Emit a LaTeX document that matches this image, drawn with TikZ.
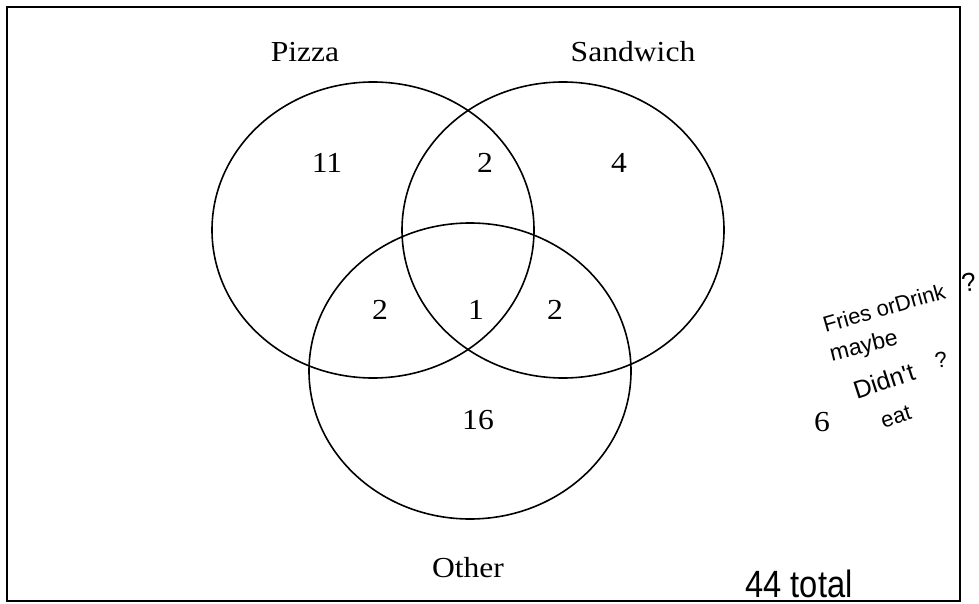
\documentclass[tikz,border=0pt]{standalone}
\usepackage{fontspec}
\setmainfont{Liberation Serif}
\newfontfamily\handfont{Liberation Sans}
\begin{document}
\begin{tikzpicture}[x=1pt,y=-1pt,
  setcircle/.style={draw=black,line width=1.6pt},
  lbl/.style={font=\fontsize{29}{32}\selectfont,xscale=1.09,inner sep=0pt},
  num/.style={font=\fontsize{29}{32}\selectfont,xscale=1.09,inner sep=0pt},
  hand/.style={font=\handfont\fontsize{#1}{#1}\selectfont,inner sep=0pt}]
\useasboundingbox (0,0) rectangle (979,604);
\fill[white] (0,0) rectangle (979,604);
\draw[line width=2.2pt] (7,7) rectangle (960,601);
% sets
\draw[setcircle] (373,230) ellipse [x radius=161, y radius=148];
\draw[setcircle] (563,230) ellipse [x radius=161, y radius=148];
\draw[setcircle] (470,371) ellipse [x radius=161, y radius=148];
% set labels
\node[lbl] (pizza) at (305,52) {Pizza};
\node[lbl] (sandwich) at (633,52) {Sandwich};
\node[lbl] (other) at (468,568) {Other};
% region counts
\node[num] (p) at (327,163) {11};
\node[num] (ps) at (485,163) {2};
\node[num] (s) at (619,163) {4};
\node[num] (po) at (380,310) {2};
\node[num] (pso) at (476,310) {1};
\node[num] (so) at (555,310) {2};
\node[num] (o) at (478,420) {16};
\node[num] (none) at (822,422) {6};
% handwritten notes
\node[hand=22,rotate=16] (fries) at (884,308) {Fries orDrink};
\node[hand=23,rotate=14] (maybe) at (864,347) {maybe};
\node[hand=25,rotate=18] (didnt) at (884,381) {Didn't};
\node[hand=22,rotate=10] (dq) at (941,360) {?};
\node[hand=22,rotate=18] (eat) at (896,417) {eat};
\node[hand=26,rotate=10] (q) at (969,282) {?};
\node[font=\handfont\fontsize{38}{40}\selectfont,xscale=0.86,inner sep=0pt] (total) at (799,584) {44 total};
\end{tikzpicture}
\end{document}
